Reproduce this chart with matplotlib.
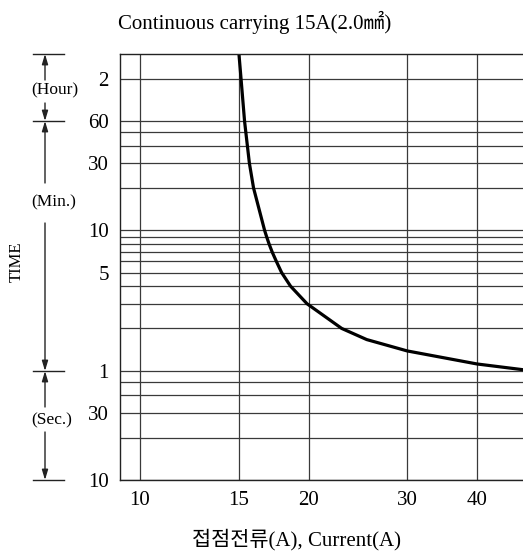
import matplotlib
matplotlib.use("Agg")
import matplotlib.pyplot as plt
from matplotlib.patches import FancyArrowPatch
from matplotlib.lines import Line2D

# Curva de disparo (corrente em A, tempo em segundos)
corrente = [15.02, 15.15, 15.37, 15.45, 15.55, 15.68, 15.95, 16.69, 16.83, 17.00,
            17.22, 17.52, 17.90, 18.57, 19.87, 22.92, 25.4, 30.0, 40.0, 48.3]
tempo_s = [10800, 7200, 3600, 3000, 2400, 1800, 1200, 600, 540, 480,
           420, 360, 300, 240, 180, 120, 100, 83, 67, 61]

# Eixos
x_ticks = [10, 15, 20, 30, 40]
y_major = [10, 30, 60, 300, 600, 1800, 3600, 7200]
y_labels = ["10", "30", "1", "5", "10", "30", "60", "2"]
y_minor = [20, 40, 50, 120, 180, 240, 360, 420, 480, 540, 1200, 2400, 3000]

W, H = 523, 555
plt.rcParams["font.family"] = ["Liberation Serif", "Noto Sans CJK KR"]


def fp(x, y):
    # pixel (origem no topo) -> fração da figura
    return (x / W, 1 - y / H)


fig = plt.figure(figsize=(W / 100, H / 100), dpi=100)
ax = fig.add_axes([120 / W, 1 - 480 / H, 403 / W, 426 / H])

ax.set_xscale("log")
ax.set_yscale("log")
ax.set_xlim(9.21, 48.3)
ax.set_ylim(10, 10800)

ax.set_xticks(x_ticks)
ax.set_xticklabels([str(v) for v in x_ticks])
ax.xaxis.set_minor_locator(plt.NullLocator())
ax.set_yticks(y_major)
ax.set_yticklabels(y_labels)
ax.set_yticks(y_minor, minor=True)
ax.yaxis.set_minor_formatter(plt.NullFormatter())
ax.tick_params(which="both", length=0, labelsize=15)
ax.tick_params(axis="y", pad=8)
ax.tick_params(axis="x", pad=8)

ax.grid(True, which="both", color="#3a3a3a", linewidth=0.9)
for lado in ["left", "top", "bottom"]:
    ax.spines[lado].set_color("#222222")
    ax.spines[lado].set_linewidth(1.0)
ax.spines["right"].set_visible(False)

ax.plot(corrente, tempo_s, color="black", linewidth=2.3,
        solid_joinstyle="round")

# Títulos
fig.text(*fp(118, 22), "Continuous carrying 15A(2.0㎟)", fontsize=15,
         ha="left", va="center")
fig.text(*fp(297, 540), "접점전류(A), Current(A)", fontsize=15,
         ha="center", va="center")
fig.text(*fp(17, 262), "TIME", fontsize=12, rotation=90,
         ha="center", va="center")

# Escala de tempo à esquerda
for yy in [54, 121, 371, 480]:
    fig.add_artist(Line2D([33 / W, 64 / W], [1 - yy / H, 1 - yy / H],
                          color="#222222", linewidth=1.0))

rotulos = [("(Hour)", 90), ("(Min.)", 202), ("(Sec.)", 420)]
for txt, yy in rotulos:
    fig.text(*fp(31, yy), txt, fontsize=12.5, ha="left", va="center")

setas = [(80, 54), (103, 121), (183, 121), (223, 371), (407, 371), (432, 480)]
for y0, y1 in setas:
    seta = FancyArrowPatch(fp(45, y0), fp(45, y1), transform=fig.transFigure,
                           arrowstyle="-|>,head_length=0.6,head_width=0.18",
                           mutation_scale=10, color="#222222", linewidth=1.0,
                           shrinkA=0, shrinkB=0)
    fig.add_artist(seta)

fig.savefig("out.png", dpi=100)
